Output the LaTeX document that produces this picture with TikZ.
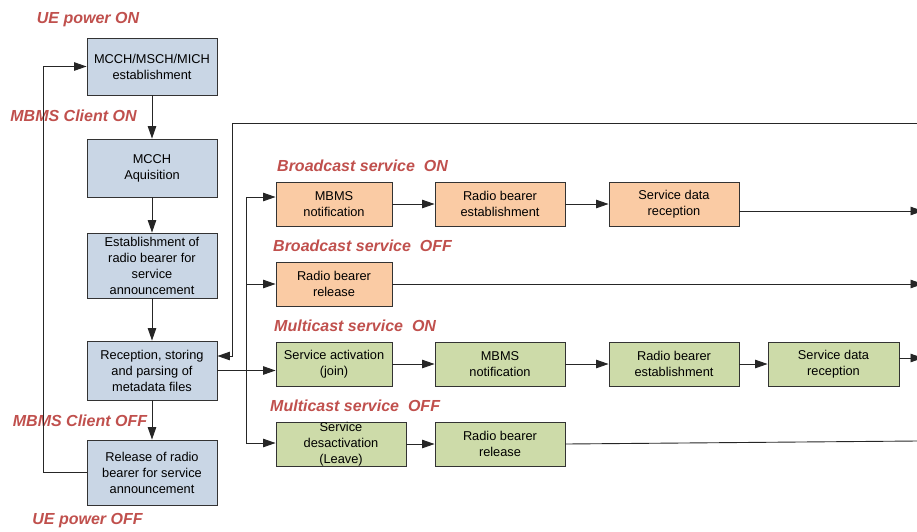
\documentclass[tikz,border=0pt]{standalone}
\usepackage{fontspec}
\setmainfont{Liberation Sans}
\usetikzlibrary{arrows.meta}
\definecolor{annBlue}{RGB}{201,214,229}
\definecolor{bcOrange}{RGB}{250,203,164}
\definecolor{mcGreen}{RGB}{205,219,169}
\definecolor{stateRed}{RGB}{192,80,77}
\begin{document}
\begin{tikzpicture}
[x=1pt,y=-1pt,
 lineDecorate/.style={-{Triangle[length=12.5pt,width=8.5pt]},line width=0.9pt,black!85},
 plainDecorate/.style={-,line width=0.9pt,black!85},
 boxDecorate/.style={shape=rectangle,draw=black!80,line width=0.9pt,align=center,
   inner sep=0pt,font=\fontsize{12.8}{16}\selectfont},
 annBox/.style={boxDecorate,fill=annBlue,minimum width=130pt},
 bcBox/.style={boxDecorate,fill=bcOrange,minimum height=44pt},
 mcBox/.style={boxDecorate,fill=mcGreen,minimum height=44pt},
 stateLabel/.style={text=stateRed,inner sep=0pt,
   font=\fontsize{16}{18}\selectfont\bfseries\itshape}]
\useasboundingbox (0,0) rectangle (917,531);
%% announcement column
\foreach \nodename/\x/\y/\h/\txt in {
  b1/152/66.5/57/{MCCH/MSCH/MICH\\establishment},
  b2/152/168/58/{MCCH\\Aquisition},
  b3/152/265.5/65/{Establishment of\\radio bearer for\\service\\announcement},
  b4/152/370.5/59/{Reception, storing\\and parsing of\\metadata files},
  b5/152/472.5/65/{Release of radio\\bearer for service\\announcement}}
{
  \node (\nodename) at (\x,\y) [annBox,minimum height=\h pt] {\txt};
}
%% broadcast boxes
\foreach \nodename/\x/\y/\w/\txt in {
  bn/334/204/116/{MBMS\\notification},
  be/500/204/130/{Radio bearer\\establishment},
  bd/674/204/130/{Service data\\reception},
  br/334/284/116/{Radio bearer\\release}}
{
  \node (\nodename) at (\x,\y) [bcBox,minimum width=\w pt] {\txt};
}
%% multicast boxes
\foreach \nodename/\x/\y/\w/\txt in {
  ma/334/364/116/{Service activation\\(join)},
  mn/500/364/130/{MBMS\\notification},
  me/674/364/130/{Radio bearer\\establishment},
  md/833.5/364/131/{Service data\\reception},
  mx/341/444/130/{Service\\desactivation\\(Leave)},
  mr/500/444/130/{Radio bearer\\release}}
{
  \node (\nodename) at (\x,\y) [mcBox,minimum width=\w pt] {\txt};
}
%% state labels
\node (ueOn) at (88,20) [stateLabel] {UE power ON};
\node (clientOn) at (73.5,116) [stateLabel] {MBMS Client ON};
\node (clientOff) at (80,421) [stateLabel] {MBMS Client OFF};
\node (ueOff) at (87.5,521) [stateLabel] {UE power OFF};
\node (bcOn) at (277,166) [stateLabel,anchor=west] {Broadcast service\ \ ON};
\node (bcOff) at (273,246) [stateLabel,anchor=west] {Broadcast service\ \ OFF};
\node (mcOn) at (274,326) [stateLabel,anchor=west] {Multicast service\ \ ON};
\node (mcOff) at (270,406) [stateLabel,anchor=west] {Multicast service\ \ OFF};
%% free ends and bends
\coordinate (fbIn) at (917,123);
\coordinate (fbBend) at (232,123);
\coordinate (busTop) at (246,197);
\coordinate (busBot) at (246,443);
\coordinate (bcOnOut) at (923,211);
\coordinate (bcOffOut) at (923,284);
\coordinate (mcOnOut) at (923,358);
\coordinate (mcOffOut) at (917,441);
%% edges or lines
\path
\foreach \startnode/\endnode in {
  b1/b2, b2/b3, b3/b4, b4/b5, bn/be, be/bd, ma/mn, mn/me, me/md, mx/mr}
{
  (\startnode) edge[lineDecorate] (\endnode)
};
\draw[lineDecorate] (b5.west) -- ++(-43,0) |- (b1.west);
\draw[lineDecorate] (fbIn) -- (fbBend) |- ([yshift=14.5pt]b4.east);
\draw[plainDecorate] (busTop) -- (busBot);
\draw[lineDecorate] (busTop) -- (busTop -| bn.west);
\draw[lineDecorate] (br.west -| busTop) -- (br.west);
\draw[lineDecorate] (busBot) -- (busBot -| mx.west);
\draw[lineDecorate] (b4.east) -- (b4.east -| ma.west);
\draw[lineDecorate] ([yshift=-7pt]bd.east) -- (bcOnOut);
\draw[lineDecorate] (br.east) -- (bcOffOut);
\draw[lineDecorate] ([yshift=6pt]md.east) -- (mcOnOut);
\draw[plainDecorate] (mr.east) -- (mcOffOut);
\end{tikzpicture}
\end{document}
